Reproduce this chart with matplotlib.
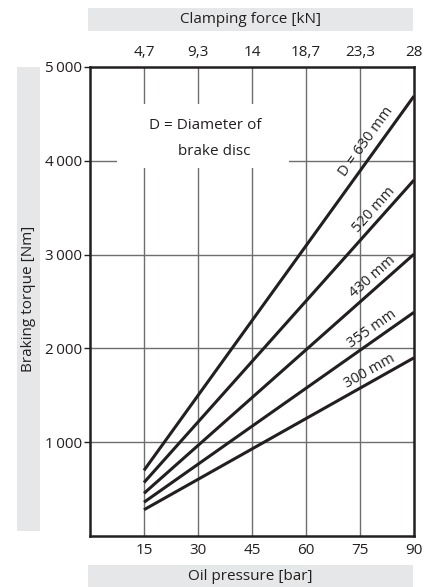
import numpy as np
import matplotlib
matplotlib.use("Agg")
import matplotlib.pyplot as plt
from matplotlib.patches import Rectangle

plt.rcParams['font.family'] = ['Open Sans', 'DejaVu Sans']

# ---- data ----
pressure_ticks = [15, 30, 45, 60, 75, 90]
clamping_labels = ["4,7", "9,3", "14", "18,7", "23,3", "28"]
torque_ticks = [1000, 2000, 3000, 4000, 5000]
torque_labels = ["1\u2009000", "2\u2009000", "3\u2009000", "4\u2009000", "5\u2009000"]

pressure = [15, 90]
diameters = ["D = 630 mm", "520 mm", "430 mm", "355 mm", "300 mm"]
torque_630 = [700, 4690]
torque_520 = [570, 3795]
torque_430 = [455, 3005]
torque_355 = [360, 2385]
torque_300 = [280, 1900]
series = [torque_630, torque_520, torque_430, torque_355, torque_300]
label_x = [79.4, 80.9, 80.4, 80.0, 79.1]
label_off = [12, 10, 10, 11, 10]

W, H = 438, 587
fig = plt.figure(figsize=(W / 100, H / 100), dpi=100)
ax = fig.add_axes([90 / W, (H - 536) / H, 324 / W, 469 / H])

ax.set_xlim(0, 90)
ax.set_ylim(0, 5000)

grid_c = '#6d6e70'
spine_c = '#231f20'
band_c = '#e6e7e8'
fs = 11

def px2x(px):
    return (px - 90) / 3.6

def py2y(py):
    return (536 - py) / 0.0938

# gridlines
for xv in pressure_ticks[:-1]:
    ax.plot([xv, xv], [0, 5000], color=grid_c, lw=1.0, zorder=1)
for yv in torque_ticks[:-1]:
    ax.plot([0, 90], [yv, yv], color=grid_c, lw=1.0, zorder=1)

# white box masking grid behind annotation
ax.add_patch(Rectangle((px2x(117), py2y(168)), px2x(289) - px2x(117), py2y(104) - py2y(168),
                       facecolor='white', edgecolor='none', zorder=2))
ax.text(px2x(205), py2y(126), "D = Diameter of", ha='center', va='center',
        fontsize=fs, color=spine_c, zorder=3)
ax.text(px2x(214), py2y(152), "brake disc", ha='center', va='center',
        fontsize=fs, color=spine_c, zorder=3)

for s in series:
    ax.plot(pressure, s, color=spine_c, lw=2.2, solid_capstyle='butt', zorder=4)

for sp in ax.spines.values():
    sp.set_color(spine_c)
    sp.set_linewidth(1.8)
    sp.set_zorder(5)

ax.set_xticks(pressure_ticks)
ax.set_xticklabels([str(v) for v in pressure_ticks])
ax.set_yticks(torque_ticks)
ax.set_yticklabels(torque_labels)
ax.tick_params(axis='x', length=0, pad=5, labelsize=fs, colors=spine_c)
ax.tick_params(axis='y', length=4, width=1.0, pad=1.5, labelsize=fs, colors=spine_c)

sec = ax.secondary_xaxis('top')
sec.set_xticks(pressure_ticks)
sec.set_xticklabels(clamping_labels)
sec.tick_params(axis='x', length=0, pad=5, labelsize=fs, colors=spine_c)
sec.spines['top'].set_visible(False)

# curve labels
fig.canvas.draw()
for s, lab, lx, off in zip(series, diameters, label_x, label_off):
    p0 = ax.transData.transform((pressure[0], s[0]))
    p1 = ax.transData.transform((pressure[1], s[1]))
    ang = np.degrees(np.arctan2(p1[1] - p0[1], p1[0] - p0[0]))
    ly = s[0] + (s[1] - s[0]) * (lx - pressure[0]) / (pressure[1] - pressure[0])
    th = np.radians(ang)
    ax.annotate(lab, (lx, ly), xytext=(-np.sin(th) * off, np.cos(th) * off),
                textcoords='offset pixels', rotation=ang, rotation_mode='anchor',
                ha='center', va='center', fontsize=fs - 0.5, color=spine_c, zorder=6)

# gray label bands
fig.patches.append(Rectangle((88 / W, (H - 31) / H), 325 / W, 23 / H,
                             transform=fig.transFigure, facecolor=band_c, edgecolor='none', zorder=0))
fig.patches.append(Rectangle((88 / W, 0), 325 / W, 22 / H,
                             transform=fig.transFigure, facecolor=band_c, edgecolor='none', zorder=0))
fig.patches.append(Rectangle((17 / W, (H - 531) / H), 23 / W, 464 / H,
                             transform=fig.transFigure, facecolor=band_c, edgecolor='none', zorder=0))
fig.text(250 / W, (H - 19.5) / H, "Clamping force [kN]", ha='center', va='center', fontsize=fs, color=spine_c)
fig.text(250 / W, (H - 576) / H, "Oil pressure [bar]", ha='center', va='center', fontsize=fs, color=spine_c)
fig.text(28.5 / W, (H - 299) / H, "Braking torque [Nm]", ha='center', va='center', rotation=90,
         fontsize=fs, color=spine_c)

fig.savefig("out.png", dpi=100)
